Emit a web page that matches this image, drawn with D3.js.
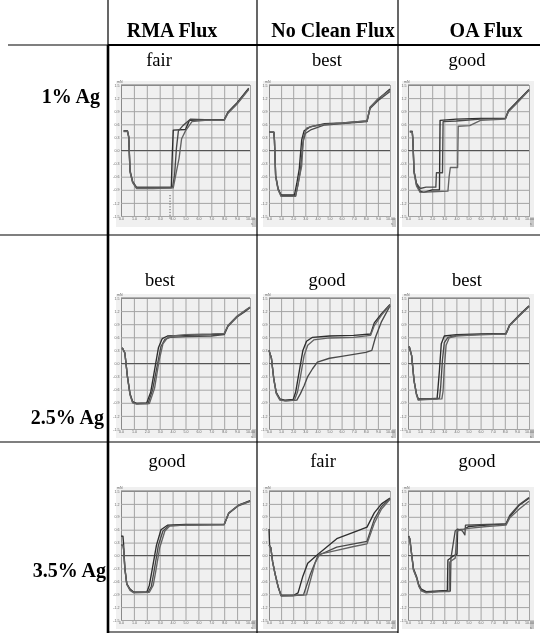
<!DOCTYPE html>
<html><head><meta charset="utf-8">
<script src="https://cdn.jsdelivr.net/npm/d3@7"></script>
<style>html,body{margin:0;padding:0;background:#fff}svg{display:block}</style>
</head><body><svg id="c" width="540" height="640"></svg>
<script>
// ---------- data ----------
const columns = ["RMA Flux", "No Clean Flux", "OA Flux"];
const rowLabels = ["1% Ag", "2.5% Ag", "3.5% Ag"];
const ratings = [["fair", "best", "good"], ["best", "good", "best"], ["good", "fair", "good"]];
const xTicks = [0, 1, 2, 3, 4, 5, 6, 7, 8, 9, 10];
const xTickLabels = ["0.0", "1.0", "2.0", "3.0", "4.0", "5.0", "6.0", "7.0", "8.0", "9.0", "10.00"];
const yTicks = [5, 4, 3, 2, 1, 0, -1, -2, -3, -4, -5];
const yTickLabels = ["1.5", "1.2", "0.9", "0.6", "0.3", "0.0", "-0.3", "-0.6", "-0.9", "-1.2", "-1.5"];

// wetting curves: [time (s), force (grid units)]
const rma1 = [
  [[0.2,1.5],[0.5,1.5],[0.6,1.0],[0.7,-1.6],[0.9,-2.4],[1.2,-2.85],[2.5,-2.85],[3.9,-2.85],[3.95,-1.0],[4.05,1.55],[5.0,1.6],[5.3,2.3],[6.5,2.35],[8.0,2.35],[8.3,2.95],[9.0,3.65],[9.9,4.75]],
  [[0.2,1.5],[0.5,1.5],[0.6,1.1],[0.7,-1.5],[0.9,-2.35],[1.2,-2.8],[2.5,-2.8],[4.0,-2.8],[4.15,-1.9],[4.3,0.2],[4.45,1.5],[4.8,1.9],[5.4,2.4],[6.5,2.35],[8.0,2.35],[8.3,2.9],[9.0,3.6],[9.9,4.7]],
  [[0.2,1.45],[0.5,1.45],[0.6,1.0],[0.7,-1.65],[0.9,-2.45],[1.2,-2.9],[2.5,-2.9],[4.05,-2.85],[4.3,-1.6],[4.5,-0.6],[4.7,0.9],[5.0,1.5],[5.5,2.2],[6.5,2.3],[8.0,2.3],[8.3,2.85],[9.0,3.55],[9.9,4.65]]
];
const nc1 = [
  [[0,1.4],[0.4,1.4],[0.45,0.8],[0.55,-1.9],[0.75,-2.9],[1.0,-3.4],[2.1,-3.4],[2.3,-2.5],[2.5,-1.4],[2.7,0.8],[2.9,1.5],[3.4,1.8],[4.6,2.05],[6.1,2.1],[8.1,2.25],[8.35,3.3],[9.0,3.9],[10,4.7]],
  [[0,1.4],[0.4,1.4],[0.45,0.8],[0.55,-1.95],[0.75,-2.95],[1.0,-3.45],[2.2,-3.45],[2.4,-2.6],[2.6,-1.5],[2.8,0.6],[3.0,1.3],[3.5,1.6],[4.6,1.95],[6.1,2.05],[8.1,2.2],[8.35,3.2],[9.0,3.8],[10,4.5]],
  [[0,1.4],[0.4,1.4],[0.45,0.8],[0.55,-2.0],[0.75,-3.0],[1.0,-3.5],[2.2,-3.5],[2.45,-2.3],[2.7,-1.2],[2.85,1.0],[3.1,1.7],[3.6,1.85],[4.6,2.0],[6.1,2.1],[8.1,2.25],[8.35,3.25],[9.0,3.95],[10,4.6]]
];
const oa1 = [
  [[0.15,1.45],[0.35,1.45],[0.4,0.9],[0.5,-1.6],[0.7,-2.6],[1.0,-3.1],[1.3,-3.2],[2.0,-3.0],[2.6,-3.0],[2.65,2.3],[4.0,2.4],[6.0,2.45],[8.05,2.45],[8.3,3.05],[9.0,3.7],[10,4.65]],
  [[0.15,1.45],[0.35,1.45],[0.4,0.9],[0.5,-1.6],[0.7,-2.5],[1.0,-2.9],[1.5,-2.8],[2.3,-2.8],[2.35,-1.7],[2.85,-1.7],[2.9,2.2],[4.0,2.25],[6.0,2.4],[8.05,2.45],[8.3,3.0],[9.0,3.7],[10,4.6]],
  [[0.15,1.4],[0.35,1.4],[0.4,0.8],[0.5,-1.7],[0.7,-2.7],[1.0,-3.2],[2.0,-3.15],[3.3,-3.1],[3.4,-2.0],[3.5,-1.3],[4.1,-1.3],[4.15,1.85],[5.1,1.9],[6.0,2.3],[8.05,2.4],[8.3,2.95],[9.0,3.6],[10,4.6]]
];
const rma2 = [
  [[0.1,1.2],[0.3,0.8],[0.5,-1.0],[0.7,-2.3],[0.9,-2.9],[1.2,-3.05],[2.0,-3.0],[2.3,-2.2],[2.6,-0.5],[2.9,1.2],[3.2,1.9],[3.6,2.1],[5.0,2.15],[7.0,2.2],[8.0,2.25],[8.3,2.9],[9.0,3.6],[9.6,4.0],[10,4.3]],
  [[0.1,1.2],[0.3,0.8],[0.5,-1.0],[0.7,-2.35],[0.9,-2.95],[1.2,-3.05],[2.1,-3.05],[2.45,-2.0],[2.8,-0.2],[3.1,1.3],[3.4,1.85],[3.8,2.0],[5.0,2.05],[7.0,2.1],[8.0,2.2],[8.3,2.85],[9.0,3.55],[9.6,3.95],[10,4.25]],
  [[0.1,1.2],[0.3,0.8],[0.5,-1.05],[0.7,-2.4],[0.9,-3.0],[1.2,-3.1],[2.2,-3.05],[2.6,-1.9],[2.95,0.2],[3.25,1.5],[3.6,1.95],[4.0,2.1],[5.0,2.2],[7.0,2.25],[8.0,2.3],[8.3,2.9],[9.0,3.6],[9.6,4.05],[10,4.3]]
];
const nc2 = [
  [[0,1.0],[0.2,0.4],[0.4,-1.2],[0.6,-2.2],[0.9,-2.7],[1.3,-2.8],[2.0,-2.75],[2.2,-2.2],[2.5,-0.6],[2.8,1.0],[3.1,1.7],[3.6,2.0],[5.0,2.1],[7.0,2.15],[8.4,2.25],[8.7,3.1],[9.3,3.8],[10,4.5]],
  [[0,1.0],[0.2,0.4],[0.4,-1.2],[0.6,-2.25],[0.9,-2.75],[1.4,-2.85],[2.3,-2.8],[2.6,-2.3],[2.9,-1.7],[3.2,-1.0],[3.6,-0.4],[4.0,0.1],[5.0,0.4],[6.0,0.55],[7.0,0.7],[8.0,0.85],[8.5,1.0],[8.8,2.0],[9.3,3.2],[10,4.4]],
  [[0,1.0],[0.2,0.4],[0.4,-1.25],[0.6,-2.3],[0.9,-2.8],[1.3,-2.85],[2.1,-2.8],[2.35,-2.2],[2.6,-1.0],[2.9,0.6],[3.2,1.4],[3.7,1.8],[5.0,1.95],[7.0,2.0],[8.4,2.15],[8.7,2.9],[9.3,3.7],[10,4.45]]
];
const oa2 = [
  [[0.1,1.3],[0.3,0.6],[0.5,-1.3],[0.7,-2.3],[0.85,-2.7],[1.5,-2.7],[2.4,-2.7],[2.45,-2.2],[2.6,-0.5],[2.75,1.5],[3.0,2.1],[4.0,2.2],[6.0,2.25],[8.1,2.3],[8.4,2.95],[9.2,3.7],[10,4.4]],
  [[0.1,1.3],[0.3,0.6],[0.5,-1.3],[0.7,-2.35],[0.85,-2.75],[1.5,-2.7],[2.6,-2.65],[2.7,-1.8],[2.85,0.3],[3.0,1.6],[3.3,2.0],[4.0,2.15],[6.0,2.2],[8.1,2.25],[8.4,2.9],[9.2,3.65],[10,4.35]],
  [[0.1,1.3],[0.3,0.6],[0.5,-1.35],[0.7,-2.4],[0.85,-2.8],[1.5,-2.75],[2.8,-2.7],[2.9,-2.1],[3.0,-0.3],[3.15,1.4],[3.4,1.95],[4.0,2.1],[6.0,2.2],[8.1,2.25],[8.4,2.9],[9.2,3.65],[10,4.35]]
];
const rma3 = [
  [[0,1.5],[0.15,1.5],[0.2,0.9],[0.3,-1.0],[0.45,-2.2],[0.7,-2.6],[1.0,-2.85],[2.0,-2.85],[2.2,-2.3],[2.45,-0.9],[2.75,0.8],[3.1,2.0],[3.6,2.35],[5.0,2.4],[8.0,2.4],[8.35,3.3],[9.1,3.9],[10,4.25]],
  [[0,0.8],[0.15,0.8],[0.2,0.5],[0.3,-1.0],[0.45,-2.2],[0.7,-2.65],[1.0,-2.85],[2.1,-2.85],[2.35,-2.4],[2.6,-1.0],[2.9,0.8],[3.25,1.9],[3.7,2.3],[5.0,2.35],[8.0,2.4],[8.35,3.25],[9.1,3.85],[10,4.2]],
  [[0,0.8],[0.15,0.8],[0.2,0.5],[0.3,-1.05],[0.45,-2.25],[0.7,-2.7],[1.0,-2.9],[2.2,-2.85],[2.5,-2.3],[2.7,-1.2],[3.0,0.6],[3.4,1.9],[3.8,2.3],[5.0,2.35],[8.0,2.4],[8.35,3.3],[9.1,3.9],[10,4.2]]
];
const nc3 = [
  [[0,2.05],[0.05,0.8],[0.15,0.6],[0.3,-0.5],[0.5,-1.4],[0.75,-2.4],[1.0,-3.1],[2.0,-3.1],[2.4,-2.9],[2.8,-1.6],[3.2,-0.6],[4.05,0.1],[5.6,1.3],[7.3,1.9],[8.1,2.2],[8.7,3.3],[9.3,4.0],[10,4.45]],
  [[0,0.8],[0.15,0.6],[0.3,-0.5],[0.5,-1.4],[0.75,-2.4],[1.0,-3.1],[2.0,-3.1],[2.85,-3.05],[3.4,-1.5],[4.05,0.0],[5.6,0.65],[7.0,0.9],[8.1,1.1],[8.7,2.8],[9.3,3.8],[10,4.4]],
  [[0,0.8],[0.15,0.6],[0.3,-0.5],[0.5,-1.45],[0.75,-2.45],[1.0,-3.15],[2.0,-3.1],[3.1,-3.05],[3.8,-0.6],[4.2,0.1],[5.6,0.4],[7.0,0.7],[8.1,0.9],[8.7,2.5],[9.3,3.6],[10,4.35]]
];
const oa3 = [
  [[0.05,1.5],[0.15,1.3],[0.3,0.1],[0.45,-1.0],[0.7,-1.6],[0.9,-2.3],[1.1,-2.6],[1.5,-2.8],[2.5,-2.75],[3.25,-2.7],[3.3,-0.35],[3.8,0.0],[4.05,0.1],[4.1,2.0],[4.7,2.05],[5.0,2.25],[6.5,2.35],[8.1,2.45],[8.4,3.0],[9.2,3.9],[10,4.45]],
  [[0.05,1.5],[0.15,1.3],[0.3,0.1],[0.45,-1.1],[0.7,-1.7],[0.9,-2.35],[1.1,-2.7],[1.5,-2.85],[2.5,-2.8],[3.5,-2.75],[3.55,-0.2],[3.9,1.9],[4.1,2.05],[4.5,1.9],[4.7,1.6],[4.75,2.35],[6.5,2.4],[8.1,2.45],[8.4,3.1],[9.2,3.95],[10,4.5]],
  [[0.05,1.45],[0.15,1.25],[0.3,0.1],[0.45,-1.1],[0.7,-1.7],[0.9,-2.4],[1.1,-2.75],[1.5,-2.9],[2.5,-2.8],[3.4,-2.8],[3.45,-0.5],[3.9,-0.2],[4.05,1.9],[4.5,2.0],[5.0,2.1],[6.5,2.25],[8.1,2.35],[8.4,2.9],[9.2,3.6],[10,4.2]]
];
const charts = [[rma1, nc1, oa1], [rma2, nc2, oa2], [rma3, nc3, oa3]];
const marker1 = [3.8, -3.4, -5.2]; // dotted cursor in first chart

// ---------- layout ----------
const svg = d3.select("#c");
const serif = "'Liberation Serif','Times New Roman',serif";
const colPlotX = [[121, 250], [269, 390], [408, 529]];
const colBgX = [[116, 256], [263, 396], [402, 534]];
const rowPlotY = [[85, 216], [298, 429], [491, 620]];
const rowBgY = [[81, 227], [294, 438], [487, 629]];
const headerX = [172, 333, 486];
const ratingY = [66, 286, 467];
const ratingX = [[159, 327, 467], [160, 327, 467], [167, 323, 477]];
const rowLabelY = [103, 424, 577];
const rowLabelX = [100, 104, 106];

const defs = svg.append("defs");
defs.append("filter").attr("id", "soft").append("feGaussianBlur").attr("stdDeviation", 0.35);

// charts
charts.forEach((row, ri) => {
  row.forEach((curves, ci) => {
    const [x0, x1] = colPlotX[ci], [y0, y1] = rowPlotY[ri];
    const g = svg.append("g").attr("filter", "url(#soft)");
    g.append("rect").attr("x", colBgX[ci][0]).attr("y", rowBgY[ri][0])
      .attr("width", colBgX[ci][1] - colBgX[ci][0]).attr("height", rowBgY[ri][1] - rowBgY[ri][0])
      .attr("fill", "#f0f0f0");
    g.append("rect").attr("x", colBgX[ci][1] - 4).attr("y", rowBgY[ri][1] - 9)
      .attr("width", 4).attr("height", 9).attr("fill", "#c8c8c8");
    const x = d3.scaleLinear().domain([0, 10]).range([x0, x1]);
    const y = d3.scaleLinear().domain([-5, 5]).range([y1, y0]);
    const gx = g.append("g").attr("transform", `translate(0,${y1})`)
      .call(d3.axisBottom(x).tickValues(xTicks).tickSize(-(y1 - y0)).tickPadding(2)
        .tickFormat((d, i) => xTickLabels[i]));
    const gy = g.append("g").attr("transform", `translate(${x0},0)`)
      .call(d3.axisLeft(y).tickValues(yTicks).tickSize(-(x1 - x0)).tickPadding(1.5)
        .tickFormat((d, i) => yTickLabels[i]));
    [gx, gy].forEach(a => {
      a.select(".domain").attr("stroke", "#8a8a8a").attr("stroke-width", 1);
      a.selectAll(".tick line").attr("stroke", "#a4a4a4").attr("stroke-width", 1);
      a.selectAll(".tick text").attr("font-size", 3.6).attr("fill", "#666").attr("font-family", "Arial,sans-serif");
    });
    gx.selectAll(".tick text").attr("dy", "0.6em");
    g.append("line").attr("x1", x0).attr("x2", x1).attr("y1", y(5)).attr("y2", y(5))
      .attr("stroke", "#707070").attr("stroke-width", 1.1);
    g.append("line").attr("x1", x0).attr("x2", x1).attr("y1", y(0)).attr("y2", y(0))
      .attr("stroke", "#555").attr("stroke-width", 1.2);
    g.append("text").attr("x", x0 - 4).attr("y", y0 - 2.5).attr("font-size", 3.5)
      .attr("fill", "#666").attr("font-family", "Arial,sans-serif").text("mN");
    g.append("text").attr("x", x1 + 1).attr("y", y1 + 9).attr("font-size", 3.2)
      .attr("fill", "#666").attr("font-family", "Arial,sans-serif").text("s");
    if (ri === 0 && ci === 0) {
      g.append("line").attr("x1", x(marker1[0])).attr("x2", x(marker1[0]))
        .attr("y1", y(marker1[1])).attr("y2", y(marker1[2]))
        .attr("stroke", "#555").attr("stroke-width", 1).attr("stroke-dasharray", "1.2,1.6");
    }
    const line = d3.line().x(d => x(d[0])).y(d => y(d[1]));
    const shades = ["#2e2e2e", "#4a4a4a", "#646464"];
    curves.forEach((c, k) => {
      g.append("path").datum(c).attr("d", line).attr("fill", "none")
        .attr("stroke", shades[k]).attr("stroke-width", 1.35).attr("stroke-linejoin", "round");
    });
  });
});

// table lines
const L = (x1, y1, x2, y2, w) => svg.append("line").attr("x1", x1).attr("y1", y1)
  .attr("x2", x2).attr("y2", y2).attr("stroke", "#000").attr("stroke-width", w);
L(108, 0, 108, 45, 1.2);
L(108, 45, 108, 633, 2.6);
L(257, 0, 257, 633, 1.2);
L(398, 0, 398, 633, 1.2);
L(8, 45, 108, 45, 1.1);
L(108, 45, 540, 45, 2.2);
L(0, 235, 540, 235, 1.2);
L(0, 442, 540, 442, 1.2);
L(108, 632, 398, 632, 1.2);

// text
columns.forEach((c, i) => svg.append("text").attr("x", headerX[i]).attr("y", 37)
  .attr("text-anchor", "middle").attr("font-family", serif).attr("font-weight", "bold")
  .attr("font-size", 20).text(c));
rowLabels.forEach((r, i) => svg.append("text").attr("x", rowLabelX[i]).attr("y", rowLabelY[i])
  .attr("text-anchor", "end").attr("font-family", serif).attr("font-weight", "bold")
  .attr("font-size", 20).text(r));
ratings.forEach((row, ri) => row.forEach((t, ci) => svg.append("text")
  .attr("x", ratingX[ri][ci]).attr("y", ratingY[ri]).attr("text-anchor", "middle")
  .attr("font-family", serif).attr("font-size", 18.5).text(t)));
</script></body></html>
